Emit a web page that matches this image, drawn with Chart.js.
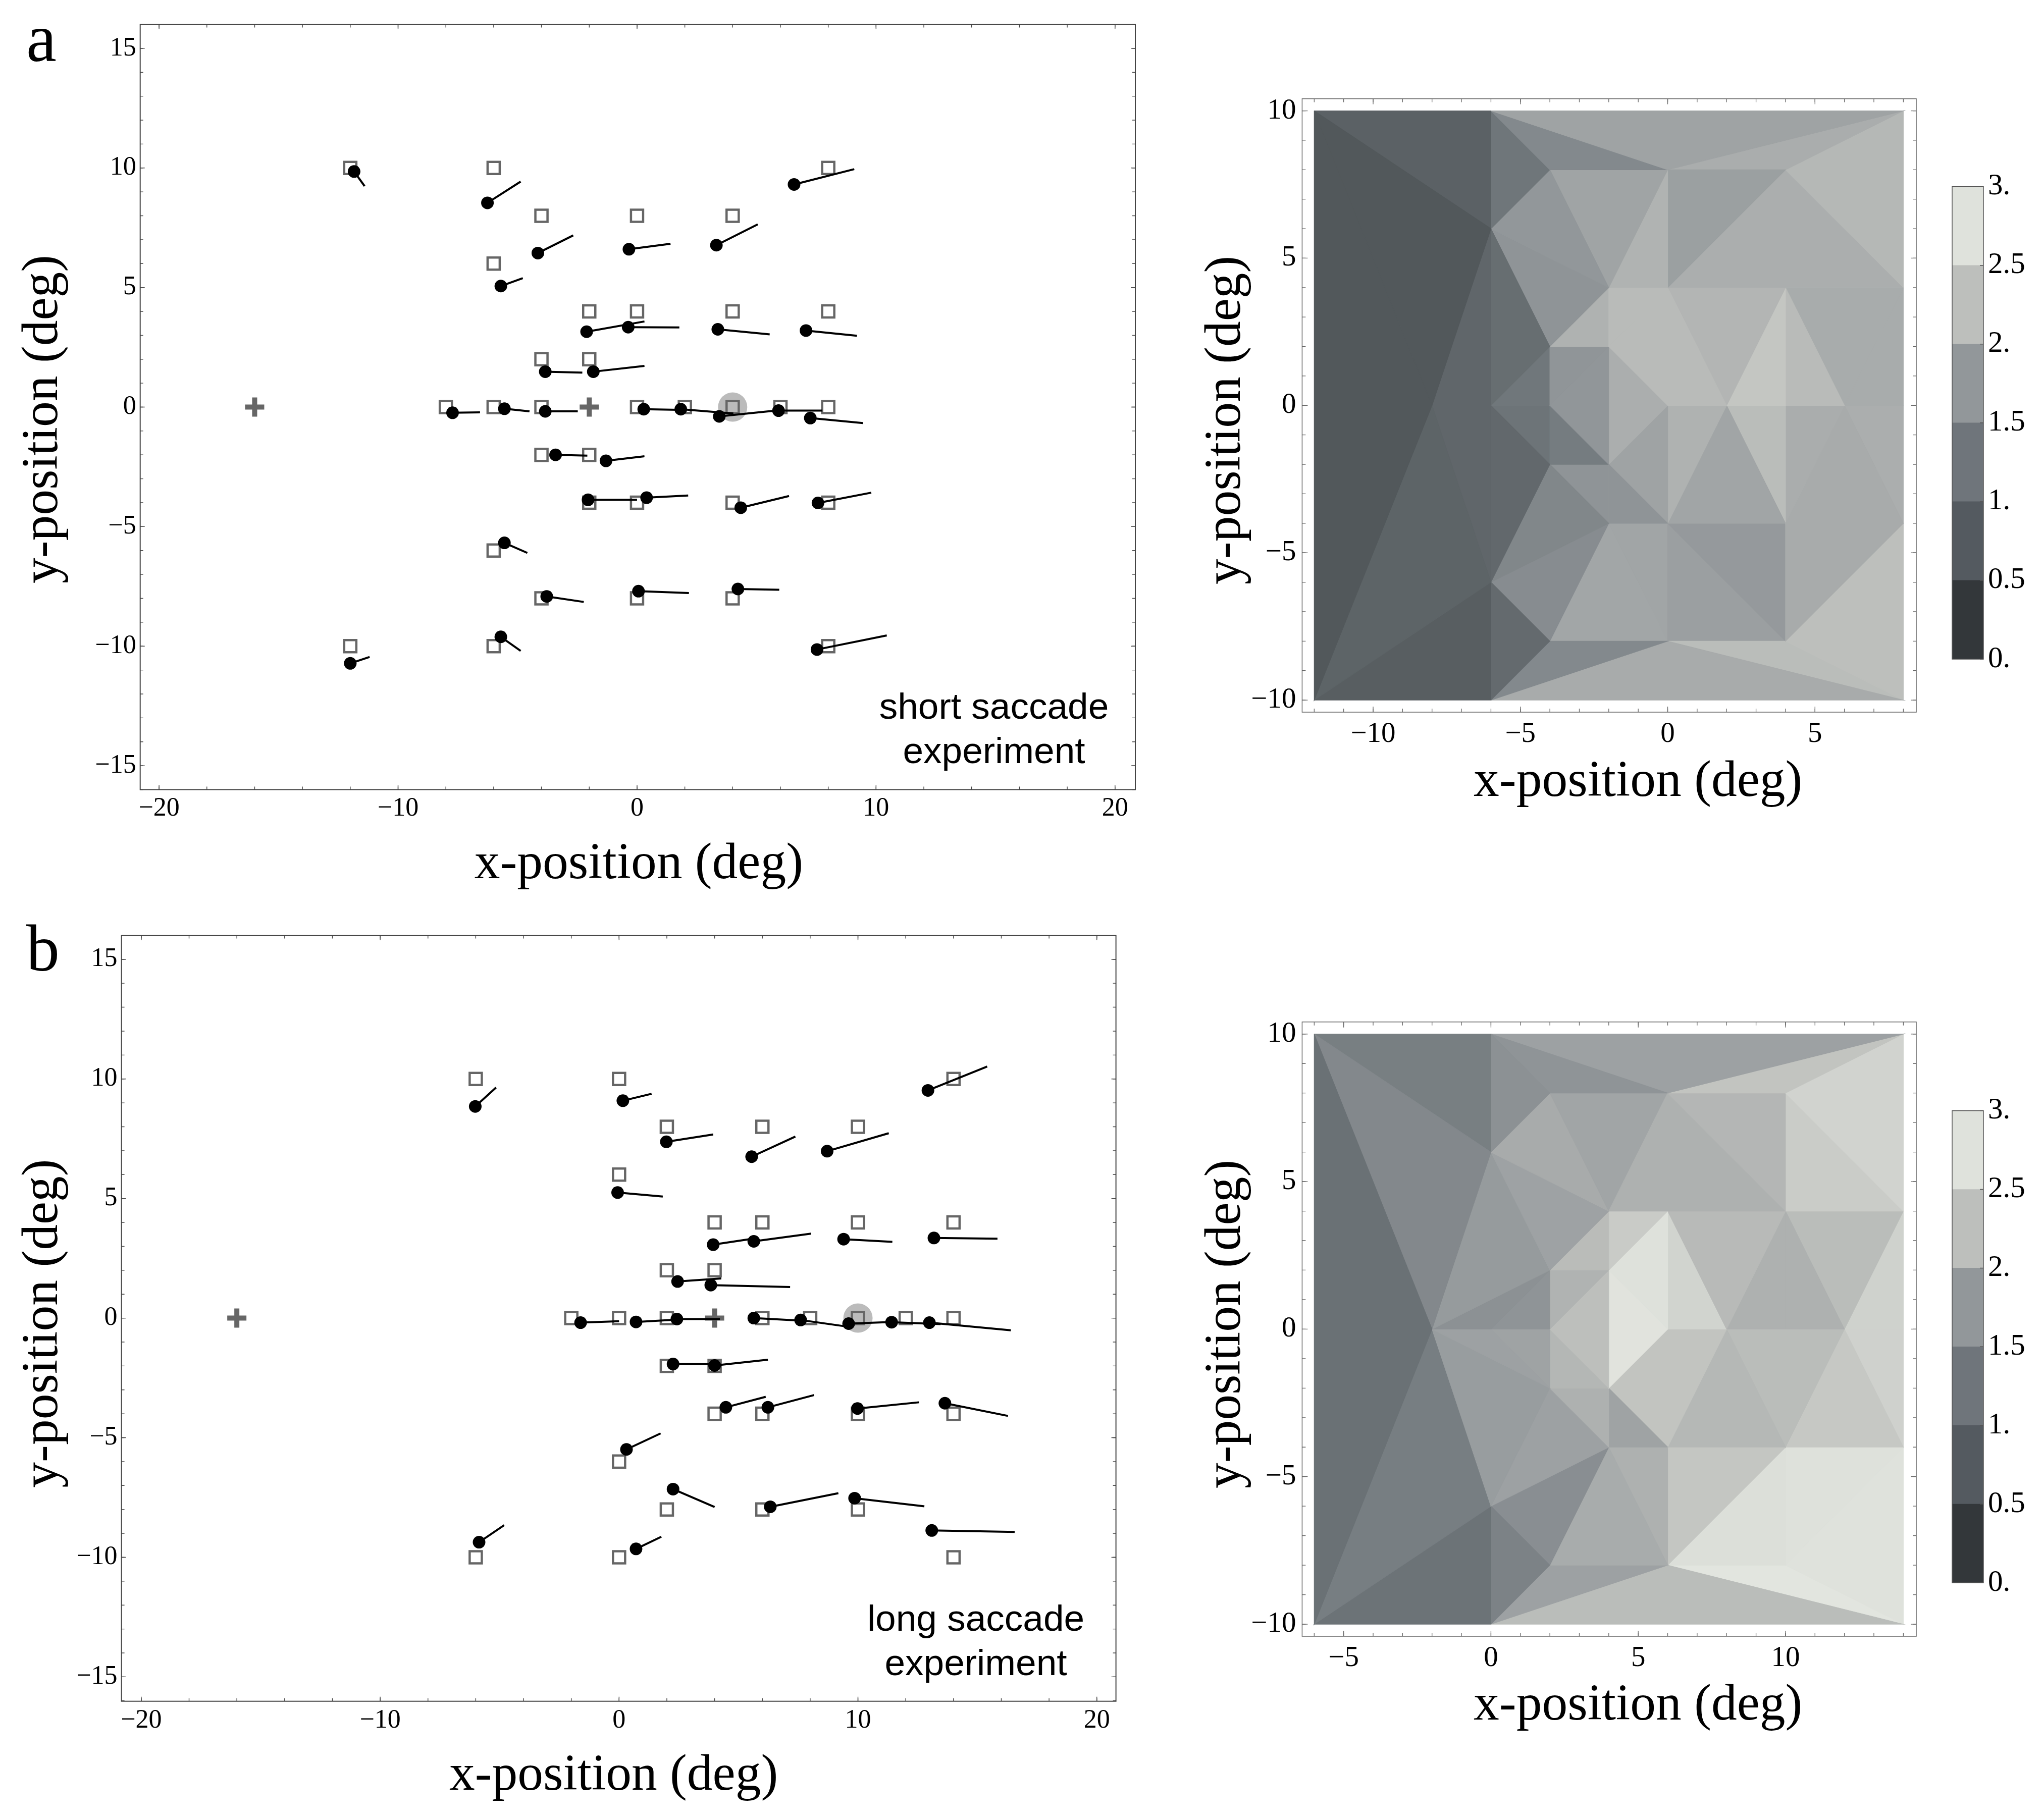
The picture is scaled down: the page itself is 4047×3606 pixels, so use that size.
<!DOCTYPE html>
<html><head><meta charset="utf-8">
<style>html,body{margin:0;padding:0;background:#fff;width:4047px;height:3606px;overflow:hidden}canvas{position:absolute;display:block}</style>
<script src="https://cdn.jsdelivr.net/npm/chart.js@4"></script>
</head><body>
<script>
// ---------- DATA: panel a (short saccade) ----------
const aTargetX=[-12,-6,8,-4,0,4,-6,-2,0,4,8,-4,-2,-8,-6,-4,0,2,4,6,8,-4,-2,-2,0,4,8,-6,-4,0,4,-12,-6,8];
const aTargetY=[10,10,10,8,8,8,6,4,4,4,4,2,2,0,0,0,0,0,0,0,0,-2,-2,-4,-4,-4,-4,-6,-8,-8,-8,-10,-10,-10];
const aLandX=[-11.84,-6.26,6.57,-4.15,-0.34,3.32,-5.7,-2.11,-0.37,3.38,7.07,-3.84,-1.83,-7.72,-5.55,-3.84,0.28,1.83,3.44,5.92,7.25,-3.41,-1.3,-2.05,0.4,4.34,7.57,-5.55,-3.78,0.06,4.22,-12,-5.7,7.53];
const aLandY=[9.85,8.54,9.31,6.44,6.6,6.77,5.06,3.15,3.34,3.25,3.2,1.48,1.48,-0.24,-0.07,-0.18,-0.09,-0.09,-0.39,-0.15,-0.46,-2,-2.25,-3.88,-3.79,-4.21,-4.01,-5.68,-7.92,-7.7,-7.61,-10.72,-9.61,-10.14];
const aEndX=[-11.4,-4.87,9.09,-2.67,1.4,5.05,-4.78,0.31,1.77,5.55,9.2,-2.29,0.31,-6.57,-4.5,-2.48,2,4.03,5.7,7.75,9.45,-2.08,0.31,0,2.14,6.36,9.8,-4.59,-2.23,2.17,5.95,-11.19,-4.87,10.45];
const aEndY=[9.24,9.43,9.95,7.18,6.83,7.64,5.39,3.58,3.33,3.04,2.98,1.44,1.72,-0.22,-0.18,-0.18,-0.12,-0.27,-0.16,-0.15,-0.67,-2.03,-2.06,-3.88,-3.7,-3.72,-3.58,-6.1,-8.15,-7.78,-7.64,-10.45,-10.2,-9.55];
const aCrossX=[-16,-2], aCrossY=[0,0], aProbeX=[4], aProbeY=[0];
// ---------- DATA: panel b (long saccade) ----------
const bTargetX=[-6,0,14,2,6,10,0,4,6,10,14,2,4,-2,0,2,6,8,10,12,14,2,4,4,6,10,14,0,2,6,10,14,-6,0];
const bTargetY=[10,10,10,8,8,8,6,4,4,4,4,2,2,0,0,0,0,0,0,0,0,-2,-2,-4,-4,-4,-4,-6,-8,-8,-8,-10,-10,-10];
const bLandX=[-6.02,0.16,12.93,1.98,5.55,8.71,-0.06,3.94,5.64,9.4,13.18,2.45,3.84,-1.61,0.71,2.42,5.64,7.6,9.61,11.41,12.99,2.26,4,4.47,6.23,9.98,13.64,0.31,2.26,6.33,9.86,13.09,-5.86,0.71];
const bLandY=[8.85,9.09,9.52,7.37,6.75,6.98,5.25,3.07,3.21,3.3,3.35,1.53,1.38,-0.19,-0.16,-0.04,0,-0.08,-0.23,-0.17,-0.19,-1.92,-1.98,-3.73,-3.73,-3.78,-3.56,-5.49,-7.15,-7.89,-7.53,-8.88,-9.37,-9.65];
const bEndX=[-5.15,1.36,15.41,3.94,7.38,11.29,1.83,5.67,8.03,11.44,15.84,4.28,7.16,0,2.45,4.22,7.88,9.58,11.44,13.46,16.4,4.22,6.23,6.14,8.16,12.56,16.28,1.74,4,9.18,12.78,16.56,-4.81,1.77];
const bEndY=[9.64,9.38,10.52,7.68,7.59,7.73,5.08,3.33,3.53,3.19,3.32,1.66,1.3,-0.13,-0.06,-0.04,-0.12,-0.36,-0.16,-0.25,-0.51,-1.93,-1.74,-3.29,-3.22,-3.52,-4.09,-4.82,-7.9,-7.32,-7.87,-8.94,-8.66,-9.14];
const bCrossX=[-16,4], bCrossY=[0,0], bProbeX=[10], bProbeY=[0];
// ---------- DATA: contour a (triangle corners x1,y1,x2,y2,x3,y3 and value) ----------
const contourATriangles=[[-12,10,-6,6,-8,0],[-12,10,-8,0,-12,-10],[-12,10,-6,10,-6,6],[-6,6,-8,0,-6,0],[-6,6,-6,0,-4,2],[-8,0,-12,-10,-6,-6],[-8,0,-6,-6,-6,0],[-12,-10,-6,-6,-6,-10],[-6,-10,-6,-6,-4,-8],[-6,0,-6,-6,-4,-2],[-6,-6,-4,-2,-2,-4],[-6,-6,-2,-4,-4,-8],[-6,-10,-4,-8,0,-8],[-6,-10,0,-8,8,-10],[-6,10,8,10,0,8],[-6,10,0,8,-4,8],[-6,10,-4,8,-6,6],[-6,6,-4,8,-2,4],[-6,6,-2,4,-4,2],[-4,8,0,8,-2,4],[0,8,-2,4,0,4],[0,8,4,8,0,4],[0,8,8,10,4,8],[4,8,8,10,8,4],[0,4,4,8,8,4],[-2,4,0,4,-2,2],[-2,2,0,0,0,4],[0,4,0,0,2,0],[-4,2,-2,4,-2,2],[0,4,4,4,2,0],[4,4,2,0,4,0],[4,4,4,0,6,0],[4,4,6,0,8,4],[6,0,8,4,8,0],[-4,2,-2,2,-4,0],[-2,2,-4,0,-2,-2],[-4,0,-4,-2,-2,-2],[-2,2,0,0,-2,-2],[-6,0,-4,2,-4,0],[-6,0,-4,0,-4,-2],[-4,-2,-2,-2,-2,-4],[-2,-2,-2,-4,0,-4],[-2,-2,0,0,0,-4],[0,0,0,-4,2,0],[2,0,0,-4,4,-4],[2,0,4,0,4,-4],[4,0,4,-4,6,0],[6,0,4,-4,8,-4],[6,0,8,0,8,-4],[4,-4,8,-4,4,-8],[4,-8,8,-4,8,-10],[0,-8,4,-8,8,-10],[0,-4,4,-4,4,-8],[0,-4,4,-8,0,-8],[-2,-4,0,-4,0,-8],[-2,-4,0,-8,-4,-8]];
const contourAValues=[0.72,0.72,0.88,0.97,1.1,0.92,0.97,0.82,1.04,1.0,1.5,1.59,1.54,2.0,1.9,1.54,1.25,1.75,1.7,1.91,2.1,1.86,2.03,2.16,2.04,2.2,2.2,2.2,2.09,2.13,2.35,2.2,2.01,2.01,1.72,1.74,1.34,2.04,1.26,1.22,1.7,1.7,1.9,2.09,1.93,2.22,2.03,2.0,2.04,2.0,2.25,2.22,1.78,1.85,1.93,1.94];
// ---------- DATA: contour b ----------
const contourBTriangles=[[-6,10,-2,0,-6,-10],[-6,10,0,6,-2,0],[-6,10,0,10,0,6],[0,10,0,6,2,8],[0,10,2,8,6,8],[0,10,14,10,6,8],[6,8,14,10,10,8],[10,8,14,10,14,4],[6,8,10,8,10,4],[6,8,10,4,4,4],[10,8,14,4,10,4],[2,8,6,8,4,4],[0,6,2,8,4,4],[0,6,4,4,2,2],[0,6,2,2,-2,0],[-2,0,2,2,0,0],[0,0,2,2,2,0],[2,2,4,4,4,2],[2,2,4,2,2,0],[4,4,6,4,4,2],[6,4,4,2,6,0],[2,0,4,2,4,-2],[4,2,6,0,4,-2],[6,4,10,4,8,0],[6,4,8,0,6,0],[10,4,8,0,10,0],[10,4,10,0,12,0],[10,4,12,0,14,4],[12,0,14,4,14,0],[-2,0,0,0,2,-2],[0,0,2,0,2,-2],[2,0,4,-2,2,-2],[2,-2,4,-2,4,-4],[4,-2,4,-4,6,-4],[4,-2,6,0,6,-4],[6,0,8,0,6,-4],[8,0,6,-4,10,-4],[8,0,10,0,10,-4],[10,0,12,0,10,-4],[12,0,10,-4,14,-4],[12,0,14,0,14,-4],[-2,0,2,-2,0,-6],[2,-2,4,-4,0,-6],[-2,0,0,-6,-6,-10],[0,-6,-6,-10,0,-10],[0,-10,0,-6,2,-8],[0,-6,4,-4,2,-8],[4,-4,2,-8,6,-8],[4,-4,6,-4,6,-8],[0,-10,2,-8,6,-8],[0,-10,6,-8,14,-10],[6,-4,10,-4,6,-8],[10,-4,6,-8,10,-8],[10,-4,14,-4,10,-8],[10,-8,14,-4,14,-10],[6,-8,10,-8,14,-10]];
const contourBValues=[1.16,1.53,1.38,1.66,1.7,1.88,2.32,2.54,2.14,2.08,2.44,1.93,2.0,1.89,1.8,1.66,1.7,2.21,2.1,2.42,2.74,2.25,2.79,2.19,2.55,2.08,2.08,2.22,2.52,1.88,1.9,2.15,2.08,1.9,2.32,2.32,2.16,2.22,2.22,2.38,2.51,1.82,1.88,1.37,1.19,1.43,1.62,2.01,2.08,1.88,2.22,2.35,2.71,2.74,2.75,2.83];
// ---------- colour bar and ticks ----------
const barLow=[0,0.5,1,1.5,2,2.5], barHigh=[0.5,1,1.5,2,2.5,3];
const barColors=['#33373a','#545a60','#6f757b','#92979a','#bdbfbc','#dfe2dc'];
const barTicks=[0,0.5,1,1.5,2,2.5,3], barTickLabels=['0.','0.5','1.','1.5','2.','2.5','3.'];
const scatterXMajor=[-20,-10,0,10,20], scatterYMajor=[-15,-10,-5,0,5,10,15];
const contourAXMajor=[-10,-5,0,5], contourBXMajor=[-5,0,5,10], contourYMajor=[-10,-5,0,5,10];
const rangeStep=(a,b,s)=>{const r=[];for(let v=a;v<=b+1e-9;v+=s)r.push(v);return r};
const xTitle='x-position (deg)', yTitle='y-position (deg)';

const SERIF='"Liberation Serif"', SANS='"Liberation Sans"';
const fmt=v=>(v<0?'\u2212':'')+Math.abs(v);
// value to colour (ramp through the colour-bar band centres)
const rampZ=[0.25,0.75,1.25,1.75,2.25,2.75,3], rampRGB=[[0x33,0x37,0x3a],[0x54,0x5a,0x5d],[0x6f,0x76,0x7a],[0x92,0x97,0x9a],[0xbd,0xbf,0xbc],[0xdf,0xe2,0xdc],[0xe9,0xea,0xe4]];
function zColor(z){let i=0;while(i<rampZ.length-2&&z>rampZ[i+1])i++;const t=(z-rampZ[i])/(rampZ[i+1]-rampZ[i]);
 const c=rampRGB[i].map((a,k)=>Math.round(a+(rampRGB[i+1][k]-a)*t));return `rgb(${c[0]},${c[1]},${c[2]})`}

const framePlugin={id:'frame',afterDraw(chart,args,o){
 const {ctx,chartArea:A,scales}=chart;const S=scales.y,X=scales.x;
 ctx.save();ctx.strokeStyle=o.color;ctx.lineCap='butt';
 ctx.lineWidth=o.tickWidth;
 const ht=(list,len)=>{ctx.beginPath();(list||[]).forEach(v=>{const p=S.getPixelForValue(v);
   if(!o.rightOnly){ctx.moveTo(A.left,p);ctx.lineTo(A.left+len,p);}ctx.moveTo(A.right,p);ctx.lineTo(A.right-len,p)});ctx.stroke()};
 const vt=(list,len)=>{ctx.beginPath();(list||[]).forEach(v=>{const p=X.getPixelForValue(v);
   ctx.moveTo(p,A.bottom);ctx.lineTo(p,A.bottom-len);ctx.moveTo(p,A.top);ctx.lineTo(p,A.top+len)});ctx.stroke()};
 ht(o.yMinor,o.minorLen);ht(o.yMajor,o.majorLen);
 if(o.xMajor){vt(o.xMinor,o.minorLen);vt(o.xMajor,o.majorLen);}
 ctx.lineWidth=o.width;ctx.strokeRect(A.left,A.top,A.right-A.left,A.bottom-A.top);
 ctx.fillStyle='#000';ctx.textAlign='center';ctx.textBaseline='alphabetic';
 (o.texts||[]).forEach(t=>{ctx.font=t.font;ctx.textAlign=t.align||'center';ctx.fillText(t.text,t.x,t.y)});
 ctx.restore();
}};
Chart.register(framePlugin);

function fitter(size,dx,dy){return s=>{
 if(s.isHorizontal())s.height=size;else s.width=size;
 s.paddingLeft=s.paddingRight=s.paddingTop=s.paddingBottom=0;
 if(!s._shifted){s._shifted=true;const orig=s.drawTitle;
  s.drawTitle=function(){const c=this.ctx;c.save();c.translate(dx,dy);orig.call(this);c.restore()};}
}}
function mkCanvas(x,y,w,h){const c=document.createElement('canvas');c.width=w;c.height=h;c.style.left=x+'px';c.style.top=y+'px';c.style.width=w+'px';c.style.height=h+'px';document.body.appendChild(c);return c}

function axis(o){return {type:'linear',position:o.pos,min:o.min,max:o.max,
 grid:{display:false,drawTicks:false},border:{display:false},
 afterBuildTicks:s=>{s.ticks=o.ticks.map(v=>({value:v}))},
 afterFit:fitter(o.size,o.dx||0,o.dy||0),
 ticks:{autoSkip:false,maxRotation:0,minRotation:0,padding:o.tickPad,color:'#000',font:{family:SERIF,size:o.tickSize},callback:fmt},
 title:{display:true,text:o.title,color:'#000',font:{family:SERIF,size:101.5},padding:{top:o.titlePad,bottom:o.titlePad}}}}

function scatterChart(box,pad,frame,xa,ya,T){
 const lines=[];T.lx.forEach((x,i)=>{lines.push({x,y:T.ly[i]},{x:T.ex[i],y:T.ey[i]},{x:NaN,y:NaN})});
 const pts=(xs,ys)=>xs.map((x,i)=>({x,y:ys[i]}));
 new Chart(mkCanvas(...box),{type:'scatter',data:{datasets:[
  {label:'probe',data:pts(T.px,T.py),order:5,pointRadius:29,pointBackgroundColor:'#bbbbbb',pointBorderWidth:0,pointBorderColor:'#bbbbbb'},
  {label:'targets',data:pts(T.tx,T.ty),order:4,pointStyle:'rect',pointRadius:17,pointBackgroundColor:'rgba(0,0,0,0)',pointBorderColor:'#666666',pointBorderWidth:4.5},
  {label:'fixation',data:pts(T.cx,T.cy),order:4,pointStyle:'cross',pointRadius:19,pointBorderColor:'#666666',pointBorderWidth:10},
  {label:'saccades',data:lines,order:2,showLine:true,pointRadius:0,borderColor:'#000',borderWidth:4},
  {label:'landing',data:pts(T.lx,T.ly),order:1,pointRadius:12.5,pointBackgroundColor:'#000',pointBorderColor:'#000',pointBorderWidth:0}
 ]},options:{responsive:false,animation:false,devicePixelRatio:1,layout:{padding:pad},
  plugins:{legend:{display:false},tooltip:{enabled:false},frame},
  scales:{x:axis(xa),y:axis(ya)}}});
}
function contourChart(box,pad,frame,xa,ya,tris,vals){
 const ds=tris.map((t,i)=>{const c=zColor(vals[i]);return {data:[{x:t[0],y:t[1]},{x:t[2],y:t[3]},{x:t[4],y:t[5]},{x:t[0],y:t[1]}],showLine:true,fill:'shape',pointRadius:0,backgroundColor:c,borderColor:c,borderWidth:1.2,tension:0}});
 new Chart(mkCanvas(...box),{type:'scatter',data:{datasets:ds},options:{responsive:false,animation:false,devicePixelRatio:1,layout:{padding:pad},
  plugins:{legend:{display:false},tooltip:{enabled:false},filler:{propagate:false},frame},
  scales:{x:axis(xa),y:axis(ya)}}});
}
function colorBar(box,pad){
 new Chart(mkCanvas(...box),{type:'bar',data:{labels:['z'],datasets:barLow.map((l,i)=>({data:[[l,barHigh[i]]],backgroundColor:barColors[i],borderWidth:0,barPercentage:1,categoryPercentage:1}))},
  options:{responsive:false,animation:false,devicePixelRatio:1,layout:{padding:pad},
  plugins:{legend:{display:false},tooltip:{enabled:false},frame:{color:'#555',width:1.5,tickWidth:1.5,yMajor:barTicks,majorLen:7,minorLen:0,rightOnly:true}},
  scales:{x:{display:false,stacked:true},
   y:{type:'linear',position:'right',min:0,max:3,grid:{display:false,drawTicks:false},border:{display:false},
    afterBuildTicks:s=>{s.ticks=barTicks.map(v=>({value:v}))},afterFit:fitter(118,0,0),
    ticks:{autoSkip:false,padding:9,color:'#000',font:{family:SERIF,size:59},callback:(v,i)=>barTickLabels[i]}}}}});
}
const sFrame=(xMaj,texts)=>({color:'#444',width:2,tickWidth:1.4,xMajor:xMaj,xMinor:rangeStep(-20,20,2),yMajor:scatterYMajor,yMinor:rangeStep(-16,16,1),majorLen:9,minorLen:6,texts});
// panel a
scatterChart([0,0,2300,1800],{left:0,top:48.5,right:51,bottom:0},
 sFrame(scatterXMajor,[
  {text:'a',x:52,y:121,font:'135px '+SERIF,align:'left'},
  {text:'short saccade',x:1969,y:1424,font:'73px '+SANS},
  {text:'experiment',x:1969,y:1512,font:'73px '+SANS}]),
 {pos:'bottom',min:-20.79,max:20.85,ticks:scatterXMajor,size:235.5,tickPad:7,tickSize:52,title:xTitle,titlePad:26,dx:2},
 {pos:'left',min:-16,max:16,ticks:scatterYMajor,size:277.7,tickPad:8,tickSize:52,title:yTitle,titlePad:25,dy:24},
 {tx:aTargetX,ty:aTargetY,lx:aLandX,ly:aLandY,ex:aEndX,ey:aEndY,cx:aCrossX,cy:aCrossY,px:aProbeX,py:aProbeY});
// panel b
scatterChart([0,1800,2300,1806],{left:0,top:53.4,right:89.4,bottom:0},
 sFrame(scatterXMajor,[
  {text:'b',x:52,y:123,font:'132px '+SERIF,align:'left'},
  {text:'long saccade',x:1933,y:1431,font:'73px '+SANS},
  {text:'experiment',x:1933,y:1519,font:'73px '+SANS}]),
 {pos:'bottom',min:-20.83,max:20.8,ticks:scatterXMajor,size:235.3,tickPad:7,tickSize:52,title:xTitle,titlePad:26,dx:-10},
 {pos:'left',min:-16.02,max:16,ticks:scatterYMajor,size:240.6,tickPad:8,tickSize:52,title:yTitle,titlePad:25,dy:10},
 {tx:bTargetX,ty:bTargetY,lx:bLandX,ly:bLandY,ex:bEndX,ey:bEndY,cx:bCrossX,cy:bCrossY,px:bProbeX,py:bProbeY});
// contours
const cFrame=(maj,min)=>({color:'#666',width:1.5,tickWidth:1.3,xMajor:maj,xMinor:min,yMajor:contourYMajor,yMinor:rangeStep(-10,10,1),majorLen:11,minorLen:7});
contourChart([2350,100,1460,1600],{left:0,top:95.6,right:14,bottom:0},cFrame(contourAXMajor,rangeStep(-12,8,1)),
 {pos:'bottom',min:-12.41,max:8.44,ticks:contourAXMajor,size:289,tickPad:10,tickSize:57,title:xTitle,titlePad:89,dx:57},
 {pos:'left',min:-10.41,max:10.41,ticks:contourYMajor,size:229.4,tickPad:12,tickSize:57,title:yTitle,titlePad:18,dy:29},
 contourATriangles,contourAValues);
contourChart([2350,1930,1460,1600],{left:0,top:94.8,right:14,bottom:0},cFrame(contourBXMajor,rangeStep(-6,14,1)),
 {pos:'bottom',min:-6.41,max:14.44,ticks:contourBXMajor,size:288,tickPad:10,tickSize:57,title:xTitle,titlePad:89,dx:57},
 {pos:'left',min:-10.41,max:10.41,ticks:contourYMajor,size:229.4,tickPad:12,tickSize:57,title:yTitle,titlePad:18,dy:-10},
 contourBTriangles,contourBValues);
colorBar([3840,300,207,1100],{left:27,top:69.7,right:0,bottom:94});
colorBar([3840,2130,207,1100],{left:27,top:70.6,right:0,bottom:94});
</script>
</body></html>
